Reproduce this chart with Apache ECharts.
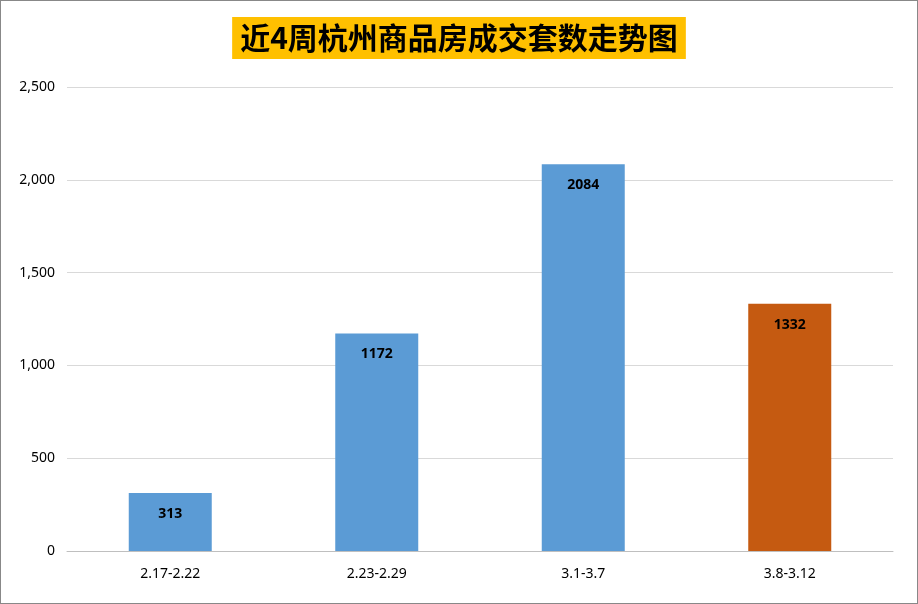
<!DOCTYPE html>
<html><head><meta charset="utf-8">
<script src="https://cdn.jsdelivr.net/npm/echarts@6/dist/echarts.min.js"></script>
<style>html,body{margin:0;padding:0;background:#fff}#c{width:918px;height:604px;box-sizing:border-box;border:1px solid #888}</style>
</head><body><div id="c"></div>
<script>
const categories = ['2.17-2.22','2.23-2.29','3.1-3.7','3.8-3.12'];
const values = [313,1172,2084,1332];
const colors = ['#5B9BD5','#5B9BD5','#5B9BD5','#C55A11'];
const chart = echarts.init(document.getElementById('c'));
chart.setOption({
  animation:false,
  title:{text:'近4周杭州商品房成交套数走势图',left:'center',top:16,
    backgroundColor:'#FFC000',padding:[6,8,6,8],
    textStyle:{fontFamily:'Noto Sans CJK SC',fontSize:30,fontWeight:'bold',color:'#000'}},
  grid:{left:66,right:24,top:86,bottom:52},
  xAxis:{type:'category',data:categories,
    axisLine:{lineStyle:{color:'#bfbfbf'}},axisTick:{show:false},
    axisLabel:{color:'#000',fontSize:14,fontFamily:'Noto Sans',margin:16}},
  yAxis:{type:'value',min:0,max:2500,interval:500,
    axisLine:{show:false},axisTick:{show:false},
    splitLine:{lineStyle:{color:'#d9d9d9'}},
    axisLabel:{color:'#000',fontSize:14,fontFamily:'Noto Sans',margin:12}},
  series:[{type:'bar',barWidth:83,
    data:values.map((v,i)=>({value:v,itemStyle:{color:colors[i]}})),
    label:{show:true,position:'insideTop',distance:14,color:'#000',fontWeight:'bold',fontSize:14,fontFamily:'Noto Sans'}}]
});
</script></body></html>
